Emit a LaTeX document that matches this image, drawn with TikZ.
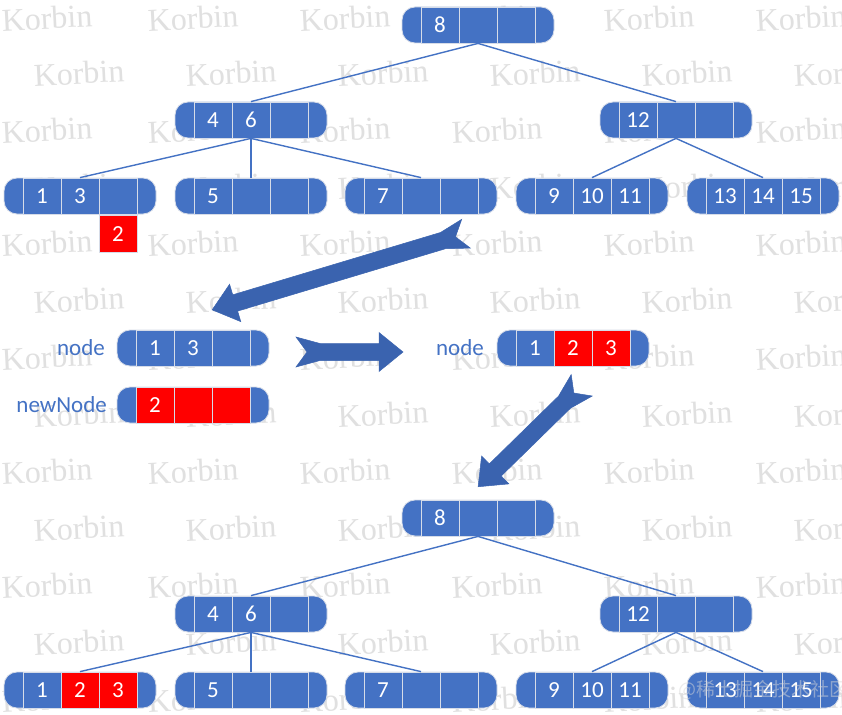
\documentclass[tikz,border=0pt]{standalone}
\usepackage{fontspec}
\setmainfont{Carlito}
\newfontfamily\wmfont{Liberation Serif}
\newfontfamily\cjkfont{Noto Sans CJK SC}
\usetikzlibrary{calc}
\definecolor{nblue}{HTML}{4472C4}
\definecolor{ablue}{HTML}{3A63AF}
\definecolor{nred}{HTML}{FF0000}
\definecolor{wm}{HTML}{E0E0E0}
\definecolor{cline}{HTML}{D6DCE8}
\tikzset{
  bnode/.style={rectangle, rounded corners=13pt, fill=nblue, draw=cline, line width=0.8pt,
    minimum width=152pt, minimum height=36pt, inner sep=0pt},
  cell/.style={rectangle, draw=cline, line width=0.8pt, minimum width=38pt, minimum height=36pt,
    inner sep=0pt, text=white, font=\fontsize{23}{23}\selectfont},
  edge/.style={draw=nblue, line width=1.4pt},
  lbl/.style={text=nblue, font=\fontsize{23}{23}\selectfont, inner sep=0pt, anchor=east},
  wmark/.style={text=wm, font=\wmfont\fontsize{32}{32}\selectfont, rotate=3, inner sep=0pt},
  fat/.style={fill=ablue, draw=ablue, line width=0.5pt, line join=miter},
}
\newcommand\btn[9]{%
  \node[bnode] (#1) at (#2,#3) {};
  \node[cell,fill=#7] (#1-a) at (#2-38,#3) {#4};
  \node[cell,fill=#8] (#1-b) at (#2,#3) {#5};
  \node[cell,fill=#9] (#1-c) at (#2+38,#3) {#6};
}
\newcommand\fatarrow[4]{%
  \begin{scope}[shift={(#1,#2)}, rotate=#3]
    \fill[fat] (0,15) -- (24,8.5) -- (#4-24,8.5) -- (#4-24,19.5) -- (#4,0) -- (#4-24,-19.5)
      -- (#4-24,-8.5) -- (24,-8.5) -- (0,-15) -- (11,0) -- cycle;
  \end{scope}}
\begin{document}
\begin{tikzpicture}[x=1pt,y=-1pt]
\fill[white] (0,0) rectangle (842,714);
\useasboundingbox (0,0) rectangle (842,714);
% watermark
\foreach \y in {18,130,243,357,471,585,699}
  \foreach \x in {47,193,345,497,649,801}
    \node[wmark] (wa-\x-\y) at (\x,\y) {Korbin};
\foreach \y in {73,186,300,414,528,642}
  \foreach \x in {79,231,383,535,687,839}
    \node[wmark] (wb-\x-\y) at (\x,\y) {Korbin};

% ---------- top tree ----------
\btn{troot}{478}{25}{8}{}{}{nblue}{nblue}{nblue}
\btn{tA}{251}{120}{4}{6}{}{nblue}{nblue}{nblue}
\btn{tB}{676}{120}{12}{}{}{nblue}{nblue}{nblue}
\btn{tc1}{80}{196}{1}{3}{}{nblue}{nblue}{nblue}
\btn{tc2}{251}{196}{5}{}{}{nblue}{nblue}{nblue}
\btn{tc3}{421}{196}{7}{}{}{nblue}{nblue}{nblue}
\btn{tc4}{592}{196}{9}{10}{11}{nblue}{nblue}{nblue}
\btn{tc5}{763}{196}{13}{14}{15}{nblue}{nblue}{nblue}
\node[cell, fill=nred, minimum height=37pt] (red2) at (118,234) {2};
\draw[edge] (troot.south) -- (tA.north);
\draw[edge] (troot.south) -- (tB.north);
\draw[edge] (tA.south) -- (tc1.north);
\draw[edge] (tA.south) -- (tc2.north);
\draw[edge] (tA.south) -- (tc3.north);
\draw[edge] (tB.south) -- (tc4.north);
\draw[edge] (tB.south) -- (tc5.north);

% ---------- middle ----------
\node[lbl] (lnode) at (105,348) {node};
\node[lbl] (lnew) at (107,405) {newNode};
\btn{mnode}{193}{348}{1}{3}{}{nblue}{nblue}{nblue}
\btn{mnew}{193}{405}{2}{}{}{nred}{nred}{nred}
\node[lbl] (rlabel) at (484,348) {node};
\btn{rnode}{573}{348}{1}{2}{3}{nblue}{nred}{nred}

\fatarrow{466}{233.7}{196.7}{265}
\fatarrow{296}{352}{0}{107}
\fatarrow{581.7}{385.3}{224.4}{145}

% ---------- bottom tree ----------
\btn{broot}{478}{518}{8}{}{}{nblue}{nblue}{nblue}
\btn{bA}{251}{614}{4}{6}{}{nblue}{nblue}{nblue}
\btn{bB}{676}{614}{12}{}{}{nblue}{nblue}{nblue}
\btn{bc1}{80}{690}{1}{2}{3}{nblue}{nred}{nred}
\btn{bc2}{251}{690}{5}{}{}{nblue}{nblue}{nblue}
\btn{bc3}{421}{690}{7}{}{}{nblue}{nblue}{nblue}
\btn{bc4}{592}{690}{9}{10}{11}{nblue}{nblue}{nblue}
\btn{bc5}{763}{690}{13}{14}{15}{nblue}{nblue}{nblue}
\draw[edge] (broot.south) -- (bA.north);
\draw[edge] (broot.south) -- (bB.north);
\draw[edge] (bA.south) -- (bc1.north);
\draw[edge] (bA.south) -- (bc2.north);
\draw[edge] (bA.south) -- (bc3.north);
\draw[edge] (bB.south) -- (bc4.north);
\draw[edge] (bB.south) -- (bc5.north);

\node[text=white!70!gray, opacity=0.5, font=\cjkfont\fontsize{19}{19}\selectfont,
  anchor=west, inner sep=0pt] (wmsite) at (678,690) {@稀土掘金技术社区};
\end{tikzpicture}
\end{document}
